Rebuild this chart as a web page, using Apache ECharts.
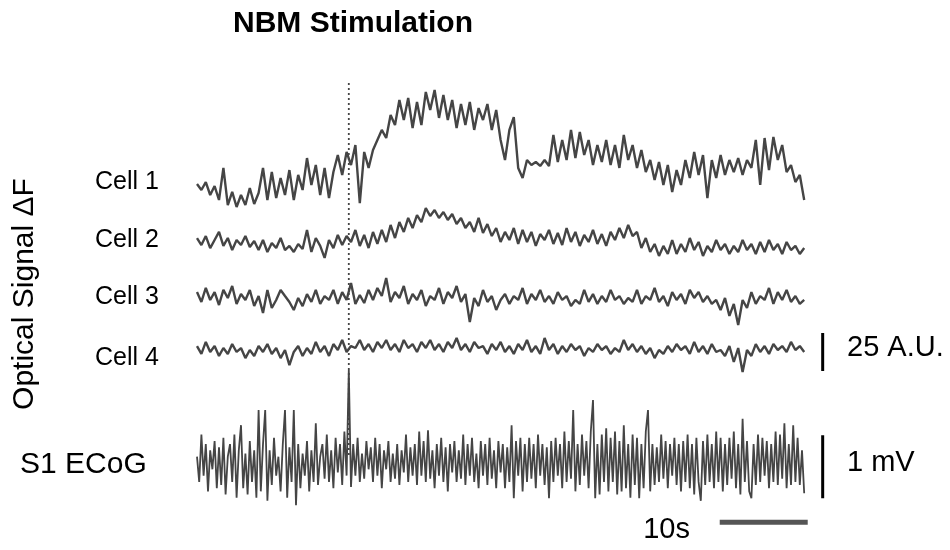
<!DOCTYPE html>
<html>
<head>
<meta charset="utf-8">
<script src="https://cdn.jsdelivr.net/npm/echarts@6/dist/echarts.min.js"></script>
<style>html,body{margin:0;padding:0;background:#fff;}#c{width:950px;height:550px;}</style>
</head>
<body>
<div id="c"></div>
<script>
// ---- data ----
const cellStep = 0.5;   // s between samples, optical traces
const ecogStep = 0.25;  // s between samples, ECoG
const stimTime = 17.25; // s, NBM stimulation
const traceLabels = ['Cell 1', 'Cell 2', 'Cell 3', 'Cell 4', 'S1 ECoG'];
const cell1 = [2.6,-1.3,3.9,-4.6,1.3,-7.9,13.2,-11.2,-2.6,-12.5,
-4.6,-11.2,0,-10.5,-3.3,13.2,-7.9,10.5,-6.6,6.6,
-4.6,11.8,-7.9,8.6,-1.3,19.7,2,15.1,-4.6,13.2,
-6.6,10.5,21.7,8.6,23.7,15.1,28.3,-9.9,23.7,13.2,
25,31.6,38.2,32.9,48,41.4,57.9,44.7,59.2,39.5,
56.6,41.4,63.2,51.3,64.5,46.1,61.2,44.7,57.9,39.5,
55.3,41.4,56.6,38.2,52.6,44.7,55.3,38.2,51.3,31.6,
18.4,38.2,46.7,13.2,6.6,18.4,15.1,17.1,14.5,18.4,
14.5,34.9,17.1,31.6,18.4,38.2,19.7,36.8,21.7,31.6,
15.1,28.3,17.1,31.6,15.1,28.3,13.2,34.9,18.4,28.3,
13.2,25,10.5,18.4,5.3,17.1,2,15.1,-2.6,11.8,
2,18.4,6.6,23.7,8.6,21.7,-6.6,18.4,6.6,21.7,
8.6,18.4,10.5,19.7,8.6,18.4,13.2,31.6,2,32.9,
11.8,33.6,18.4,28.3,10.5,15.1,3.9,8.6,-7.9];
const cell2 = [1.3,-3.3,2.6,-5.3,0,5.3,-3.9,1.3,-6.6,0,
-3.3,2.6,-4.6,-0.7,-6.6,0,-7.9,-2,-5.3,1.3,
-6.6,-3.9,-7.9,-2.6,-5.9,6.6,-7.9,1.3,-3.9,-11.8,
0,-5.3,3.3,-3.3,2.6,-1.3,6.6,-3.9,3.3,-5.3,
5.3,-2.6,6.6,-1.3,9.9,1.3,11.8,5.3,14.5,7.9,
16.4,11.8,21,15.8,19.7,14.5,18.4,13.2,17.1,10.5,
14.5,7.9,11.8,5.3,14.5,4.6,10.5,2.6,7.9,-1.3,
5.3,0,7.9,-2.6,6.6,-1.3,5.3,-3.9,3.9,0,
6.6,-2.6,4.6,-3.3,7.9,-1.3,5.3,-3.9,3.3,-1.3,
6.6,-2.6,3.9,-3.9,5.3,0,7.9,1.3,9.9,2.6,
5.3,-5.3,1.3,-7.9,-2.6,-10.5,-3.9,-9.2,0,-9.2,
-2.6,-7.9,1.3,-6.6,-1.3,-10.5,-3.9,-7.9,0,-6.6,
-2.6,-9.2,-3.9,-7.9,0,-6.6,-2.6,-9.2,-1.3,-7.9,
0,-6.6,-2.6,-9.2,-1.3,-6.6,-3.9,-9.2,-5.3];
const cell3 = [3.9,-2.6,6.6,-1.3,3.9,-4.6,5.3,0,7.9,-3.9,
2.6,-1.3,5.3,-5.3,1.3,-9.9,5.3,-6.6,-1.3,5.3,
1.3,-2.6,-7.9,0,-5.3,2.6,-2.6,5.3,-3.9,1.3,
-1.3,5.3,-3.9,3.9,-1.3,9.9,-3.9,2,-3.3,5.3,
-1.3,6.6,1.3,13.2,-2.6,3.9,0,7.9,-3.9,2.6,
-1.3,5.3,-5.3,1.3,-1.3,6.6,-3.9,3.9,0,7.9,
-2.6,2.6,-15.8,0,-5.3,5.3,-2.6,1.3,-7.9,-1.3,
2.6,-3.9,1.3,-1.3,6.6,-3.9,2.6,-1.3,5.3,-2.6,
1.3,-3.9,3.9,-1.3,1.3,-5.3,-1.3,-3.9,5.3,-2.6,
2.6,-3.9,1.3,-2.6,5.3,-1.3,1.3,-3.9,0,-2.6,
5.3,-3.9,1.3,-1.3,6.6,-2.6,1.3,-5.3,3.9,-1.3,
2.6,-3.9,5.3,0,3.9,-2.6,1.3,-3.9,-1.3,-7.9,
0,-11.8,-3.9,-17.8,-1.3,-6.6,3.9,-3.9,1.3,-1.3,
6.6,-3.9,3.9,-1.3,5.3,-2.6,1.3,-3.9,-1.3];
const cell4 = [2.6,-2.6,5.3,-1.3,2.6,-3.9,1.3,-2.6,3.9,-1.3,
1.3,-5.3,0,-3.9,2.6,-1.3,3.9,-2.6,1.3,-5.3,
0,-9.9,-1.3,2.6,-3.9,1.3,-2.6,5.3,-1.3,2.6,
-3.9,3.9,0,6.6,-1.3,2.6,1.3,6.6,0,3.9,
-1.3,5.3,1.3,6.6,0,3.9,-1.3,6.6,1.3,3.9,
-1.3,5.3,1.3,6.6,0,3.9,-1.3,5.3,1.3,7.9,
0,3.9,-1.3,5.3,1.3,2.6,-2.6,3.9,0,5.3,
-1.3,2.6,-2.6,3.9,0,6.6,-1.3,2.6,-2.6,7.9,
0,3.9,-2.6,2.6,-1.3,3.9,0,2.6,-3.9,1.3,
-1.3,3.9,0,2.6,-2.6,1.3,-1.3,6.6,0,3.9,
-1.3,2.6,-2.6,1.3,-5.3,0,-2.6,2.6,-1.3,3.9,
0,2.6,-2.6,5.3,-1.3,2.6,-2.6,3.9,-1.3,0,
-3.9,2.6,-7.9,1.3,-14.5,0,-3.9,3.9,-1.3,2.6,
-2.6,3.9,0,2.6,-1.3,5.3,0,2.6,-1.3];
const ecog = [0.1,-0.3,0.45,-0.2,0.3,-0.45,0.2,-0.1,0.35,-0.4,
0.25,-0.35,0.4,-0.5,0.1,0.3,-0.3,0.45,-0.55,0.2,
0.6,-0.4,0.15,-0.5,0.35,-0.3,0.2,-0.55,0.84,-0.45,
0.3,0.84,-0.6,0.2,-0.35,0.4,-0.2,0.1,-0.45,0.3,
0.84,-0.55,0.25,-0.3,0.84,-0.67,0.3,-0.4,0.15,-0.2,
0.35,-0.45,0.2,-0.3,0.63,-0.35,0.1,0.3,-0.25,0.45,
-0.3,0.2,-0.4,0.4,-0.15,0.3,-0.35,0.5,-0.2,1.48,
-0.38,0.3,-0.2,0.4,-0.3,0.15,-0.25,0.35,-0.1,0.25,
-0.3,0.4,-0.2,0.3,-0.4,0.2,-0.1,0.35,-0.3,0.15,
-0.25,0.3,-0.35,0.2,-0.15,0.45,-0.3,0.25,-0.2,0.3,
-0.35,0.5,-0.2,0.35,-0.3,0.52,-0.25,0.2,-0.4,0.3,
-0.2,0.4,-0.3,0.25,-0.45,0.3,-0.15,0.35,-0.3,0.2,
-0.25,0.45,-0.35,0.3,-0.2,0.4,-0.3,0.15,-0.4,0.35,
-0.2,0.3,-0.35,0.4,-0.25,0.2,-0.4,0.35,-0.15,0.3,
-0.4,0.25,-0.3,0.6,-0.56,0.35,-0.2,0.4,-0.45,0.3,
-0.3,0.4,-0.25,0.3,-0.4,0.45,-0.2,0.3,-0.35,0.25,
-0.56,0.35,-0.3,0.4,-0.2,0.3,-0.4,0.5,-0.3,0.35,
-0.25,0.84,-0.45,0.3,-0.35,0.45,-0.2,0.35,-0.4,0.5,
1.0,-0.56,0.3,-0.5,0.45,-0.3,0.55,-0.45,0.4,-0.3,
0.5,-0.5,0.35,-0.45,0.6,-0.4,0.3,-0.55,0.45,-0.35,
0.4,-0.56,0.3,-0.4,0.5,0.84,-0.45,0.3,-0.35,0.25,
-0.3,0.45,-0.25,0.35,-0.4,0.3,-0.2,0.4,-0.35,0.3,
-0.45,0.35,-0.3,0.45,-0.4,0.3,-0.5,0.4,-0.3,-0.6,
0.35,-0.35,0.45,-0.3,0.3,-0.4,0.5,-0.3,0.4,-0.45,
0.3,-0.35,0.4,-0.25,0.5,-0.4,0.3,-0.5,0.7,-0.3,
0.35,-0.45,-0.56,0.3,-0.35,0.45,-0.3,0.4,-0.2,0.35,
-0.4,0.3,-0.3,0.5,-0.35,0.45,-0.25,0.63,-0.4,0.3,
-0.35,0.6,-0.3,0.4,-0.35,0.2,-0.48];
// scale bars
const barAU = 25;   // A.U.
const barMV = 1;    // mV
const barSec = 10;  // s

// ---- layout ----
const X0 = 197, PXS = 8.8, TMAX = 72;
const FONT = '"Liberation Sans", Arial, sans-serif';
const TRACE = '#454545';

function pairs(arr, step){ return arr.map((v,i)=>[+(i*step).toFixed(3), v]); }

// each trace in its own strip: [top px, height px, min, max]
const strips = [
  [81.6, 152, -30, 70],     // cell1 (A.U.)
  [194.4, 76, -20, 30],     // cell2
  [267.6, 60.8, -20, 20],   // cell3
  [319.6, 60.8, -20, 20],   // cell4
  [362.2, 163.8, -1, 1.6],  // ECoG (mV)
  [82, 373, 0, 1]           // stimulation marker strip
];
const grid = strips.map(s=>({left:X0, top:s[0], width:TMAX*PXS, height:s[1], containLabel:false}));
const xAxis = strips.map((s,i)=>({type:'value', gridIndex:i, min:0, max:TMAX, show:false}));
const yAxis = strips.map((s,i)=>({type:'value', gridIndex:i, min:s[2], max:s[3], show:false}));

function trace(i, data, w){
  return {type:'line', xAxisIndex:i, yAxisIndex:i, data:data, symbol:'none', silent:true,
    lineStyle:{color:TRACE, width:w}, animation:false};
}
const series = [
  trace(0, pairs(cell1, cellStep), 2.4),
  trace(1, pairs(cell2, cellStep), 2.4),
  trace(2, pairs(cell3, cellStep), 2.4),
  trace(3, pairs(cell4, cellStep), 2.4),
  trace(4, pairs(ecog, ecogStep), 1.8),
  {type:'line', xAxisIndex:5, yAxisIndex:5, data:[[stimTime,0],[stimTime,1]], symbol:'none', silent:true,
    lineStyle:{color:'#444', width:1.8, type:[2,3]}, animation:false},
  // 25 A.U. bar (cell 4 strip)
  {type:'line', xAxisIndex:3, yAxisIndex:3, data:[[71.1,-13.8],[71.1,-13.8+barAU]], symbol:'none', silent:true,
    lineStyle:{color:'#000', width:3}, animation:false},
  // 1 mV bar (ECoG strip)
  {type:'line', xAxisIndex:4, yAxisIndex:4, data:[[71.1,-0.56],[71.1,-0.56+barMV]], symbol:'none', silent:true,
    lineStyle:{color:'#000', width:3}, animation:false},
  // 10 s bar
  {type:'line', xAxisIndex:4, yAxisIndex:4, data:[[59.4,-0.94],[59.4+barSec,-0.94]], symbol:'none', silent:true,
    lineStyle:{color:'#555', width:5}, animation:false}
];

function txt(x, y, s, size, opts){
  return Object.assign({type:'text', x:x, y:y, silent:true,
    style:Object.assign({text:s, font:(opts&&opts.weight?opts.weight+' ':'')+size+'px '+FONT, fill:'#000',
      textAlign:'left', textVerticalAlign:'middle'}, (opts&&opts.style)||{})}, (opts&&opts.el)||{});
}
const labelY = [182, 240, 297, 358];
const graphic = [
  txt(233, 24, 'NBM Stimulation', 30, {weight:'bold'}),
  ...labelY.map((y,i)=>txt(95, y, traceLabels[i], 25)),
  txt(20, 465, traceLabels[4], 30),
  txt(847, 348, barAU + ' A.U.', 29),
  txt(847, 463, barMV + ' mV', 29),
  txt(690, 530, barSec + 's', 29, {style:{textAlign:'right'}}),
  txt(25, 294, 'Optical Signal \u0394F', 30, {style:{textAlign:'center'}, el:{rotation:Math.PI/2}})
];

const chart = echarts.init(document.getElementById('c'), null, {renderer:'canvas'});
chart.setOption({animation:false, backgroundColor:'#fff', grid, xAxis, yAxis, series, graphic});
</script>
</body>
</html>
